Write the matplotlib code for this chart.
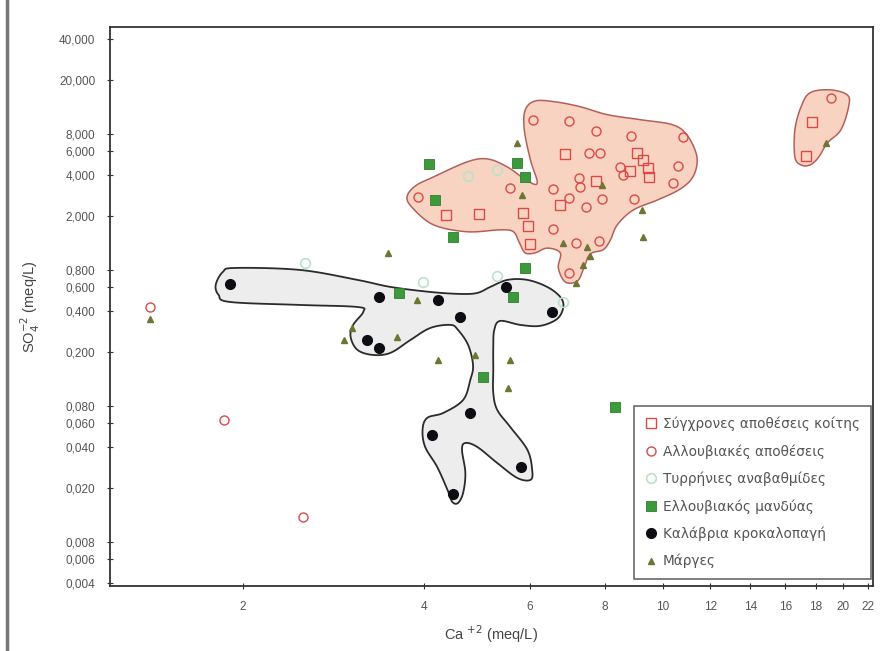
import matplotlib.pyplot as plt
import numpy as np
from matplotlib.lines import Line2D

plt.rcParams['font.family'] = ['Liberation Sans', 'DejaVu Sans']

# Σύγχρονες αποθέσεις κοίτης (open squares)
recent_ca = [6.86, 9.07, 9.28, 8.83, 9.46, 9.50, 7.75, 6.73, 4.36, 4.95, 5.86, 5.97, 6.02, 17.7, 17.3]
recent_so4 = [5.71, 5.81, 5.16, 4.28, 4.51, 3.87, 3.62, 2.41, 2.03, 2.07, 2.10, 1.69, 1.25, 9.82, 5.52]

# Αλλουβιακές αποθέσεις (open circles)
alluv_ca = [6.09, 6.99, 7.75, 8.87, 10.8, 7.55, 7.87, 8.50, 8.57, 10.6, 10.4, 7.26, 7.29, 6.57,
            6.99, 7.46, 7.93, 8.97, 6.57, 7.18, 7.84, 6.99, 3.91, 5.57, 1.40, 1.86, 2.52, 19.1]
alluv_so4 = [10.2, 9.99, 8.43, 7.75, 7.62, 5.81, 5.81, 4.58, 4.00, 4.66, 3.50, 3.81, 3.27, 3.16,
             2.71, 2.33, 2.67, 2.67, 1.61, 1.27, 1.31, 0.762, 2.76, 3.21, 0.428, 0.0632, 0.0122, 14.75]

# Τυρρήνιες αναβαθμίδες
terr_ca = [2.54, 3.99, 4.74, 5.30, 5.30, 6.83]
terr_so4 = [0.903, 0.654, 3.94, 4.36, 0.724, 0.466]

# Ελλουβιακός μανδύας
mantle_ca = [4.08, 5.72, 5.90, 4.18, 4.48, 5.90, 5.64, 5.01, 3.63, 8.34]
mantle_so4 = [4.83, 4.91, 3.87, 2.62, 1.40, 0.829, 0.507, 0.131, 0.543, 0.0788]

# Καλάβρια κροκαλοπαγή
congl_ca = [1.90, 3.37, 4.23, 3.21, 3.37, 4.60, 5.48, 6.55, 4.78, 4.13, 5.81, 4.48]
congl_so4 = [0.63, 0.51, 0.48, 0.245, 0.215, 0.36, 0.60, 0.39, 0.071, 0.049, 0.0285, 0.018]

# Μάργες
marl_ca = [1.40, 3.49, 2.94, 3.04, 3.90, 3.61, 4.23, 4.87, 5.57, 5.53, 5.72, 5.83, 6.83, 7.49,
           7.57, 7.37, 7.93, 9.25, 9.28, 7.18, 18.7]
marl_so4 = [0.350, 1.07, 0.245, 0.300, 0.482, 0.258, 0.175, 0.190, 0.175, 0.109, 6.88, 2.85, 1.27,
            1.18, 1.02, 0.872, 3.38, 2.21, 1.40, 0.643, 6.88]

# outlines of the grouped samples
pink_hull_ca = [3.75, 3.87, 4.15, 4.72, 5.10, 5.51, 5.95, 6.18, 6.02, 5.88, 5.90, 6.13, 6.62, 7.29,
                8.09, 9.18, 10.4, 11.0, 11.4, 11.25, 10.7, 9.80, 8.93, 8.40, 8.18, 7.96, 7.57,
                7.40, 7.21, 6.88, 6.70, 6.75, 6.42, 6.13, 5.90, 5.77, 5.64, 5.36, 4.72, 4.15, 3.83]
pink_hull_so4 = [2.76, 3.32, 3.87, 4.99, 5.25, 4.58, 3.62, 3.50, 5.16, 8.58, 12.0, 14.0, 13.8, 12.7,
                 11.1, 10.2, 9.34, 7.75, 5.43, 3.94, 3.16, 2.62, 2.21, 1.72, 1.33, 1.13, 1.05,
                 0.843, 0.665, 0.654, 0.829, 1.07, 1.16, 1.07, 1.07, 1.27, 1.53, 1.58, 1.53, 1.72, 2.29]

right_hull_ca = [17.6, 19.0, 20.3, 20.4, 19.8, 18.8, 18.2, 17.6, 17.0, 16.6, 16.6, 17.0]
right_hull_so4 = [16.1, 16.9, 15.5, 12.7, 8.58, 6.88, 5.43, 4.74, 4.74, 5.43, 8.58, 12.7]

black_hull_ca = [1.80, 1.85, 1.94, 2.49, 3.10, 3.52, 4.10, 4.60, 4.91, 5.16, 5.51, 5.95, 6.42, 6.75,
                 6.83, 6.67, 6.25, 5.79, 5.36, 5.24, 5.22, 5.22, 5.22, 5.30, 5.57, 5.95, 6.06, 6.02,
                 5.72, 5.30, 4.91, 4.69, 4.63, 4.69, 4.65, 4.56, 4.46, 4.38, 4.21, 4.02, 3.98, 4.05,
                 4.31, 4.65, 4.78, 4.83, 4.74, 4.56, 4.43, 4.10, 3.80, 3.52, 3.29, 3.10, 3.02, 3.05,
                 3.17, 3.10, 2.49, 1.90, 1.82]
black_hull_so4 = [0.622, 0.775, 0.829, 0.801, 0.677, 0.601, 0.552, 0.534, 0.543, 0.601, 0.677, 0.677,
                  0.601, 0.507, 0.428, 0.350, 0.311, 0.316, 0.338, 0.290, 0.218, 0.147, 0.0999, 0.0749,
                  0.0562, 0.0381, 0.0271, 0.0229, 0.0237, 0.0305, 0.0400, 0.0428, 0.0381, 0.0258,
                  0.0184, 0.0155, 0.0158, 0.0193, 0.0285, 0.0400, 0.0534, 0.0654, 0.0712, 0.0887,
                  0.1245, 0.160, 0.225, 0.290, 0.316, 0.300, 0.245, 0.197, 0.190, 0.207, 0.258, 0.316,
                  0.394, 0.428, 0.443, 0.466, 0.525]

x_ticks = [2, 4, 6, 8, 10, 12, 14, 16, 18, 20, 22]
y_ticks = [0.004, 0.006, 0.008, 0.02, 0.04, 0.06, 0.08, 0.2, 0.4, 0.6, 0.8,
           2, 4, 6, 8, 20, 40]


def smooth_closed(xs, ys, n=10):
    # closed Catmull-Rom curve, computed in log space so it follows the log axes
    lx = np.log10(xs)
    ly = np.log10(ys)
    pts = np.column_stack([lx, ly])
    m = len(pts)
    out = []
    t = np.linspace(0, 1, n, endpoint=False)[:, None]
    for i in range(m):
        p0, p1, p2, p3 = pts[i - 1], pts[i], pts[(i + 1) % m], pts[(i + 2) % m]
        seg = 0.5 * ((2 * p1) + (-p0 + p2) * t + (2 * p0 - 5 * p1 + 4 * p2 - p3) * t ** 2
                     + (-p0 + 3 * p1 - 3 * p2 + p3) * t ** 3)
        out.append(seg)
    out = np.vstack(out)
    out = np.vstack([out, out[:1]])
    return 10 ** out[:, 0], 10 ** out[:, 1]


fig = plt.figure(figsize=(8.85, 6.51), dpi=100)
ax = fig.add_axes([110 / 885, 1 - 586 / 651, (873 - 110) / 885, (586 - 27) / 651])

# group outlines first, markers on top
hx, hy = smooth_closed(pink_hull_ca, pink_hull_so4)
ax.fill(hx, hy, facecolor='#f8d3c2', edgecolor='#b4605a', linewidth=1.1, zorder=1)
hx, hy = smooth_closed(right_hull_ca, right_hull_so4)
ax.fill(hx, hy, facecolor='#f8d3c2', edgecolor='#b4605a', linewidth=1.1, zorder=1)
hx, hy = smooth_closed(black_hull_ca, black_hull_so4)
ax.fill(hx, hy, facecolor='#ededed', edgecolor='#2b2b2b', linewidth=1.3, zorder=1)

ax.plot(recent_ca, recent_so4, 's', ms=6.5, mfc='none', mec='#dc4a45', mew=1.0, ls='none', zorder=3,
        label='Σύγχρονες αποθέσεις κοίτης')
ax.plot(alluv_ca, alluv_so4, 'o', ms=6.5, mfc='none', mec='#dc4a45', mew=1.0, ls='none', zorder=3,
        label='Αλλουβιακές αποθέσεις')
ax.plot(terr_ca, terr_so4, 'o', ms=7, mfc='none', mec='#b9e3c9', mew=1.2, ls='none', zorder=3,
        label='Τυρρήνιες αναβαθμίδες')
ax.plot(mantle_ca, mantle_so4, 's', ms=6.5, mfc='#3c9a3c', mec='#2f7f2f', mew=0.6, ls='none', zorder=4,
        label='Ελλουβιακός μανδύας')
ax.plot(congl_ca, congl_so4, 'o', ms=7, mfc='#0d0d14', mec='#0d0d14', ls='none', zorder=4,
        label='Καλάβρια κροκαλοπαγή')
ax.plot(marl_ca, marl_so4, '^', ms=4.5, mfc='#6e7432', mec='#6e7432', ls='none', zorder=4,
        label='Μάργες')

ax.set_xscale('log')
ax.set_yscale('log')
ax.set_xlim(1.2, 22.4)
ax.set_ylim(0.0038, 49)
ax.minorticks_off()
ax.set_xticks(x_ticks)
ax.set_xticklabels([str(v) for v in x_ticks])
ax.set_yticks(y_ticks)
ax.set_yticklabels([f'{v:.3f}'.replace('.', ',') for v in y_ticks])
ax.tick_params(direction='inout', length=5, width=0.8, labelsize=8.5, colors='#333333',
               labelcolor='#555555', pad=8)

for s in ax.spines.values():
    s.set_linewidth(1.3)
    s.set_color('#333333')

ax.set_xlabel(r'Ca $^{+2}$ (meq/L)', fontsize=10.5, color='#444444', labelpad=8)
ax.set_ylabel(r'SO$_4^{-2}$ (meq/L)', fontsize=10.5, color='#444444', labelpad=12)

leg = ax.legend(loc='lower right', bbox_to_anchor=(0.997, 0.012), frameon=True,
                prop={'family': ['DejaVu Sans'], 'size': 9.8},
                fancybox=False, borderpad=0.8, labelspacing=0.95, handletextpad=0.45,
                handlelength=0.9, borderaxespad=0)
leg.get_frame().set_edgecolor('#444444')
leg.get_frame().set_linewidth(1.2)
for t in leg.get_texts():
    t.set_color('#555555')

# grey rule down the left edge of the figure
fig.add_artist(Line2D([7 / 885, 7 / 885], [0, 1], color='#777777', linewidth=2.5))

plt.savefig('out.png', dpi=100)
